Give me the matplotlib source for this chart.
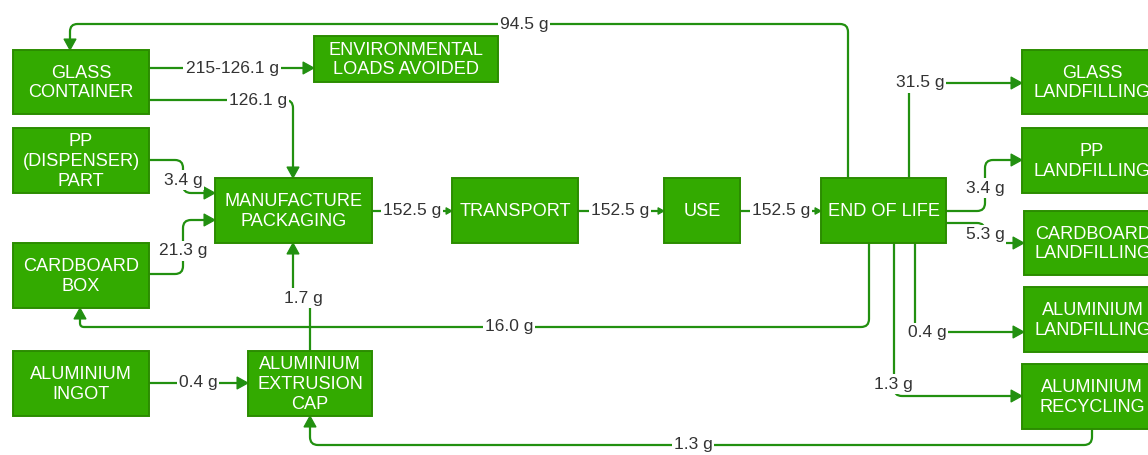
import matplotlib
matplotlib.use("Agg")
import matplotlib.pyplot as plt
from matplotlib.path import Path
from matplotlib.patches import PathPatch, Rectangle, Polygon
import numpy as np

plt.rcParams['font.family'] = ['Liberation Sans', 'DejaVu Sans']

# ---- data ----
node_names = ["GLASS\nCONTAINER", "ENVIRONMENTAL\nLOADS AVOIDED", "PP\n(DISPENSER)\nPART",
              "MANUFACTURE\nPACKAGING", "CARDBOARD\nBOX", "ALUMINIUM\nINGOT",
              "ALUMINIUM\nEXTRUSION\nCAP", "TRANSPORT", "USE", "END OF LIFE",
              "GLASS\nLANDFILLING", "PP\nLANDFILLING", "CARDBOARD\nLANDFILLING",
              "ALUMINIUM\nLANDFILLING", "ALUMINIUM\nRECYCLING"]
flow_labels = ["94.5 g", "215-126.1 g", "126.1 g", "3.4 g", "21.3 g", "1.7 g", "0.4 g",
               "152.5 g", "152.5 g", "152.5 g", "31.5 g", "3.4 g", "5.3 g", "16.0 g",
               "0.4 g", "1.3 g", "1.3 g"]

# ---- layout (pixel coordinates) ----
boxes = [(13, 50, 149, 114), (314, 36, 498, 82), (13, 128, 149, 193),
         (215, 178, 372, 243), (13, 243, 149, 308), (13, 351, 149, 416),
         (248, 351, 372, 416), (452, 178, 578, 243), (664, 178, 740, 243),
         (821, 178, 946, 243), (1022, 50, 1162, 114), (1022, 128, 1162, 193),
         (1024, 211, 1162, 275), (1024, 287, 1162, 352), (1022, 364, 1162, 429)]

routes = [
    ([(848, 178), (848, 24), (70, 24), (70, 50)], (524, 24), 11),
    ([(149, 68), (314, 68)], (232, 68), 11),
    ([(149, 100), (293, 100), (293, 178)], (258, 101), 11),
    ([(149, 160), (183, 160), (183, 193), (215, 193)], (183, 180), 11),
    ([(149, 274), (183, 274), (183, 220), (215, 220)], (183, 251), 11),
    ([(310, 351), (310, 298), (293, 298), (293, 243)], (303, 298), 11),
    ([(149, 383), (248, 383)], (198, 383), 11),
    ([(372, 211), (452, 211)], (412, 211), 6),
    ([(578, 211), (664, 211)], (620, 211), 6),
    ([(740, 211), (821, 211)], (781, 211), 6),
    ([(909, 178), (909, 83), (1022, 83)], (920, 83), 11),
    ([(946, 211), (985, 211), (985, 160), (1022, 160)], (985, 188), 11),
    ([(946, 223), (985, 223), (985, 243), (1024, 243)], (985, 235), 11),
    ([(869, 243), (869, 327), (80, 327), (80, 308)], (509, 327), 11),
    ([(915, 243), (915, 332), (1024, 332)], (927, 333), 11),
    ([(894, 243), (894, 396), (1022, 396)], (893, 384), 11),
    ([(1092, 429), (1092, 445), (310, 445), (310, 416)], (693, 445), 11),
]

FILL = "#33aa00"
EDGE = "#2b8c00"
LINE = "#229010"

fig = plt.figure(figsize=(11.48, 4.55), dpi=100)
ax = fig.add_axes([0, 0, 1, 1])
ax.set_xlim(0, 1148)
ax.set_ylim(455, 0)
ax.axis('off')


def rounded_path(pts, r=8):
    pts = [np.array(p, float) for p in pts]
    verts = [pts[0]]
    codes = [Path.MOVETO]
    for i in range(1, len(pts) - 1):
        a, p, b = pts[i - 1], pts[i], pts[i + 1]
        d1 = (p - a) / np.linalg.norm(p - a)
        d2 = (b - p) / np.linalg.norm(b - p)
        rr = min(r, np.linalg.norm(p - a) / 2, np.linalg.norm(b - p) / 2)
        verts += [p - d1 * rr, p, p + d2 * rr]
        codes += [Path.LINETO, Path.CURVE3, Path.CURVE3]
    verts.append(pts[-1])
    codes.append(Path.LINETO)
    return Path(verts, codes)


for (x0, y0, x1, y1), name in zip(boxes, node_names):
    ax.add_patch(Rectangle((x0, y0), x1 - x0, y1 - y0, facecolor=FILL,
                           edgecolor=EDGE, linewidth=1.4, zorder=3))
    ax.text((x0 + x1) / 2, (y0 + y1) / 2 + 1, name, ha='center', va='center',
            color='white', fontsize=13.1, linespacing=1.2, zorder=4)

for (pts, lpos, alen), label in zip(routes, flow_labels):
    pts = [np.array(p, float) for p in pts]
    end = pts[-1]
    prev = pts[-2]
    d = (end - prev) / np.linalg.norm(end - prev)
    base = end - d * alen
    line_pts = pts[:-1] + [base]
    ax.add_patch(PathPatch(rounded_path(line_pts), facecolor='none',
                           edgecolor=LINE, linewidth=1.6, zorder=1))
    n = np.array([-d[1], d[0]])
    hw = alen * 0.55
    tri = [end, base + n * hw, base - n * hw]
    ax.add_patch(Polygon(tri, closed=True, facecolor=LINE, edgecolor=LINE,
                         linewidth=0.8, zorder=2))
    ax.text(lpos[0], lpos[1], label, ha='center', va='center', color='#333333',
            fontsize=12.5, zorder=2.5,
            bbox=dict(boxstyle='square,pad=0.12', facecolor='white', edgecolor='none'))

fig.savefig("out.png", dpi=100, facecolor='white')
